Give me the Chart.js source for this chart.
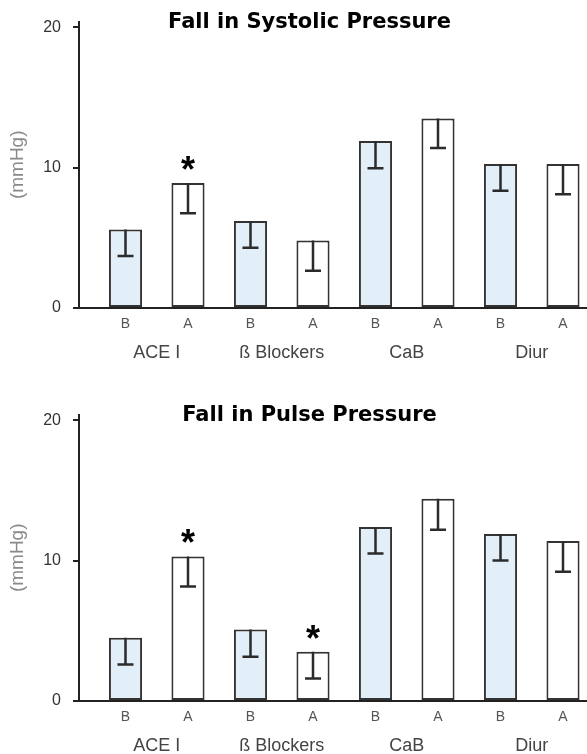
<!DOCTYPE html>
<html>
<head>
<meta charset="utf-8">
<script src="https://cdn.jsdelivr.net/npm/chart.js@4.4.0/dist/chart.umd.min.js"></script>
<style>
html, body { margin: 0; padding: 0; background: #fff; overflow: hidden; }
.caja { position: absolute; left: 0; width: 587px; height: 361px; }
</style>
</head>
<body>
<div class="caja" style="top:0"><canvas id="graficoSistolica"></canvas></div>
<div class="caja" style="top:393px"><canvas id="graficoPulso"></canvas></div>
<script>
// Datos
const categorias = ['B', 'A', 'B', 'A', 'B', 'A', 'B', 'A'];
const grupos = ['ACE I', 'ß Blockers', 'CaB', 'Diur'];
const posGrupos = [0.5, 2.5, 4.5, 6.5];
const ticksY = [0, 10, 20];

const sistolica = [5.6, 8.9, 6.2, 4.8, 11.9, 13.5, 10.25, 10.25];
const errSistolica = [1.9, 2.15, 1.9, 2.15, 1.95, 2.1, 1.9, 2.15];
const astSistolica = [1];

const pulso = [4.5, 10.3, 5.1, 3.5, 12.4, 14.4, 11.9, 11.4];
const errPulso = [1.9, 2.15, 1.95, 1.9, 1.9, 2.2, 1.9, 2.2];
const astPulso = [1, 3];

const fuente = "'Liberation Sans', Arial, sans-serif";
Chart.defaults.font.family = fuente;

// barras de error, asteriscos y titulo
const extras = {
    id: 'extras',
    afterDatasetsDraw(chart, args, opts) {
        const ctx = chart.ctx;
        const y = chart.scales.y;
        const meta = chart.getDatasetMeta(0);
        ctx.save();
        ctx.strokeStyle = '#2b2b2b';
        ctx.lineWidth = 2.5;
        meta.data.forEach((bar, i) => {
            const v = chart.data.datasets[0].data[i].y;
            const yb = y.getPixelForValue(v - opts.errores[i]);
            ctx.beginPath();
            ctx.moveTo(bar.x, bar.y);
            ctx.lineTo(bar.x, yb);
            ctx.moveTo(bar.x - 8, yb);
            ctx.lineTo(bar.x + 8, yb);
            ctx.stroke();
        });
        ctx.fillStyle = '#000';
        ctx.font = 'bold 36px ' + fuente;
        ctx.textAlign = 'center';
        ctx.textBaseline = 'alphabetic';
        const m = ctx.measureText('*');
        opts.asteriscos.forEach(i => {
            const bar = meta.data[i];
            const cy = bar.y - 20;
            ctx.fillText('*', bar.x, cy - (m.actualBoundingBoxDescent - m.actualBoundingBoxAscent) / 2);
        });
        // titulo
        ctx.font = "bold 21px 'DejaVu Sans', sans-serif";
        const t = ctx.measureText('F');
        ctx.fillText(opts.titulo, 309.5, 20 + t.actualBoundingBoxAscent / 2);
        ctx.restore();
    }
};

function crearGrafico(id, titulo, valores, errores, asteriscos) {
    const ctx = document.getElementById(id).getContext('2d');
    return new Chart(ctx, {
        type: 'bar',
        data: {
            datasets: [{
                data: valores.map((v, i) => ({ x: i, y: v })),
                backgroundColor: categorias.map(c => c === 'B' ? '#E2EEF8' : '#FFFFFF'),
                borderColor: '#333333',
                borderWidth: 2,
                borderSkipped: false,
                barPercentage: 0.53,
                categoryPercentage: 1
            }]
        },
        options: {
            responsive: true,
            maintainAspectRatio: false,
            animation: false,
            layout: { padding: { top: 19, left: 0, right: 0, bottom: 0 } },
            plugins: {
                legend: { display: false },
                tooltip: { enabled: false },
                extras: { titulo: titulo, errores: errores, asteriscos: asteriscos }
            },
            scales: {
                x: {
                    type: 'linear', position: 'bottom', min: -0.744, max: 7.384, offset: false,
                    afterBuildTicks: s => { s.ticks = categorias.map((c, i) => ({ value: i })); },
                    afterFit: s => { s.height = 26; },
                    ticks: {
                        callback: (v, i) => categorias[i],
                        font: { size: 14 }, color: '#555', padding: 8,
                        autoSkip: false, maxRotation: 0
                    },
                    grid: { display: false, drawTicks: false, offset: false },
                    border: { color: '#222', width: 2 }
                },
                g: {
                    type: 'linear', position: 'bottom', min: -0.744, max: 7.384, offset: false,
                    afterBuildTicks: s => { s.ticks = posGrupos.map(v => ({ value: v })); },
                    afterFit: s => { s.height = 27; },
                    ticks: {
                        callback: (v, i) => grupos[i],
                        font: { size: 18 }, color: '#444', padding: 8,
                        autoSkip: false, maxRotation: 0
                    },
                    grid: { display: false, drawTicks: false },
                    border: { display: false }
                },
                y: {
                    min: 0, max: 20.4,
                    afterBuildTicks: s => { s.ticks = ticksY.map(v => ({ value: v })); },
                    afterFit: s => { s.width = 79; },
                    ticks: { font: { size: 16 }, color: '#333', padding: 12 },
                    grid: { drawOnChartArea: false, drawTicks: true, tickLength: 6, color: '#222', lineWidth: 2 },
                    border: { color: '#222', width: 2 },
                    title: { display: true, text: '(mmHg)', color: '#8a8a8a', font: { size: 19 }, padding: { top: 6, bottom: 0 } }
                }
            }
        },
        plugins: [extras]
    });
}

crearGrafico('graficoSistolica', 'Fall in Systolic Pressure', sistolica, errSistolica, astSistolica);
crearGrafico('graficoPulso', 'Fall in Pulse Pressure', pulso, errPulso, astPulso);
</script>
</body>
</html>
